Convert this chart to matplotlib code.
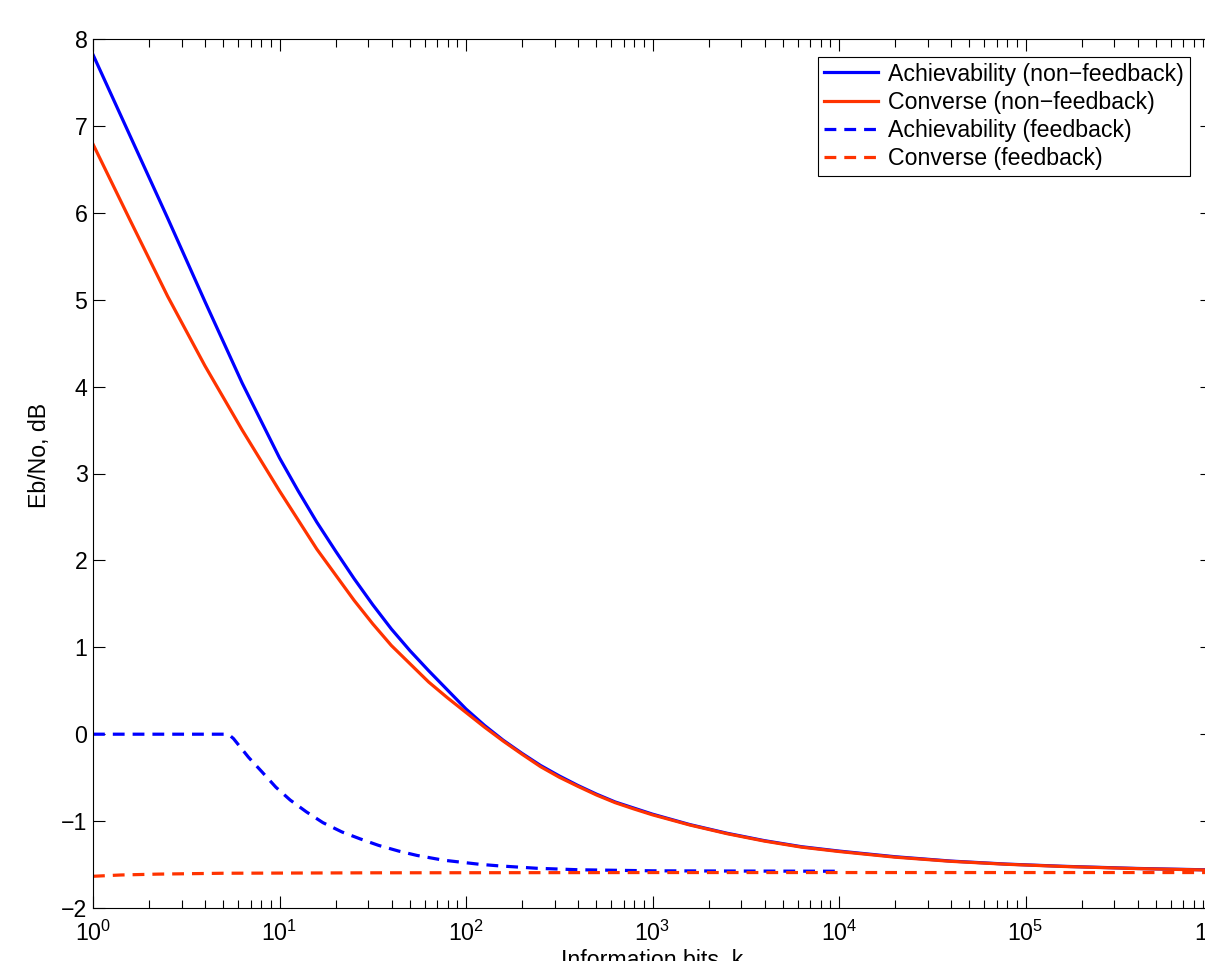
import numpy as np
import matplotlib
matplotlib.use("Agg")
from matplotlib import pyplot as plt

plt.rcParams['font.family'] = ['Liberation Sans', 'DejaVu Sans']
plt.rcParams['font.size'] = 16.7

# exponents of k (log10) and Eb/No in dB
ach_nf_logk = [0.0, 0.1, 0.2, 0.3, 0.4, 0.5, 0.6, 0.7, 0.8, 0.9, 1.0, 1.1, 1.2, 1.3, 1.4, 1.5,
               1.6, 1.7, 1.8, 1.9, 2.0, 2.1, 2.2, 2.3, 2.4, 2.5, 2.6, 2.7, 2.8, 2.9, 3.0,
               3.2, 3.4, 3.6, 3.8, 4.0, 4.3, 4.6, 4.9, 5.2, 5.6, 6.0]
ach_nf_db = [7.82, 7.35, 6.88, 6.41, 5.94, 5.46, 4.98, 4.51, 4.04, 3.61, 3.18, 2.80, 2.44, 2.11,
             1.79, 1.49, 1.21, 0.96, 0.73, 0.51, 0.29, 0.10, -0.07, -0.22, -0.36, -0.48, -0.59,
             -0.69, -0.78, -0.85, -0.92, -1.04, -1.14, -1.225, -1.295, -1.345, -1.41, -1.46,
             -1.495, -1.52, -1.545, -1.562]

conv_nf_logk = [0.0, 0.1, 0.2, 0.3, 0.4, 0.5, 0.6, 0.7, 0.8, 0.9, 1.0, 1.1, 1.2, 1.3, 1.4, 1.5,
                1.6, 1.7, 1.8, 1.9, 2.0, 2.1, 2.2, 2.3, 2.4, 2.5, 2.6, 2.7, 2.8, 2.9, 3.0,
                3.2, 3.4, 3.6, 3.8, 4.0, 4.3, 4.6, 4.9, 5.2, 5.6, 6.0]
conv_nf_db = [6.79, 6.35, 5.91, 5.475, 5.04, 4.64, 4.24, 3.87, 3.50, 3.15, 2.80, 2.465, 2.13,
              1.835, 1.54, 1.27, 1.02, 0.81, 0.60, 0.42, 0.25, 0.08, -0.08, -0.23, -0.374,
              -0.495, -0.60, -0.70, -0.788, -0.86, -0.928, -1.045, -1.145, -1.23, -1.30, -1.35,
              -1.415, -1.463, -1.497, -1.522, -1.547, -1.564]

ach_fb_logk = [0.00, 0.726, 0.753, 0.834, 0.905, 0.981, 1.057, 1.143, 1.233, 1.335, 1.433, 1.532,
               1.639, 1.737, 1.88, 2.077, 2.176, 2.381, 2.605, 3.0, 3.5, 4.0]
ach_fb_db = [0.0, 0.0, -0.05, -0.266, -0.431, -0.611, -0.757, -0.892, -1.018, -1.125, -1.205, -1.28,
             -1.345, -1.395, -1.45, -1.498, -1.515, -1.543, -1.56, -1.572, -1.575, -1.577]

conv_fb_logk = [0.0, 0.15, 0.35, 0.7, 1.5, 3.0, 6.0]
conv_fb_db = [-1.635, -1.62, -1.61, -1.60, -1.595, -1.592, -1.592]

labels = ['Achievability (non\u2212feedback)', 'Converse (non\u2212feedback)',
          'Achievability (feedback)', 'Converse (feedback)']

blue = '#0000FF'
red = '#FF3300'
dash = (0, (3.7, 2.5))

fig = plt.figure(figsize=(12.05, 9.61), dpi=100)
ax = fig.add_axes([93 / 1205, 53 / 961, 1119 / 1205, 869 / 961])

ax.plot(10 ** np.array(ach_nf_logk), ach_nf_db, color=blue, lw=2.3, label=labels[0])
ax.plot(10 ** np.array(conv_nf_logk), conv_nf_db, color=red, lw=2.3, label=labels[1])
ax.plot(10 ** np.array(ach_fb_logk), ach_fb_db, color=blue, lw=2.3, ls=dash, label=labels[2])
ax.plot(10 ** np.array(conv_fb_logk), conv_fb_db, color=red, lw=2.3, ls=dash, label=labels[3])

ax.set_xscale('log')
ax.set_xlim(1, 1e6)
ax.set_ylim(-2, 8)
ax.set_yticks(range(-2, 9))
ax.set_xticks([10 ** i for i in range(7)])

ax.tick_params(which='both', direction='in', top=True, right=True, width=0.8, color='black')
ax.tick_params(which='major', length=8.4)
ax.tick_params(which='minor', length=5.5)
ax.tick_params(axis='x', which='major', pad=9)
ax.tick_params(axis='y', which='major', pad=4)
for s in ax.spines.values():
    s.set_linewidth(0.8)

ax.set_xlabel('Information bits, k', va='top')
ax.xaxis.set_label_coords(0.5, -0.047)
ax.set_ylabel('Eb/No, dB', va='center')
ax.yaxis.set_label_coords(-0.0474, 0.521)

leg = ax.legend(loc='upper right', bbox_to_anchor=(0.980, 0.9796), borderaxespad=0,
                fancybox=False, framealpha=1, edgecolor='black', borderpad=0.25,
                labelspacing=0.22, handlelength=2.3, handletextpad=0.45)
leg.get_frame().set_linewidth(0.8)

fig.savefig('out.png', dpi=100)
